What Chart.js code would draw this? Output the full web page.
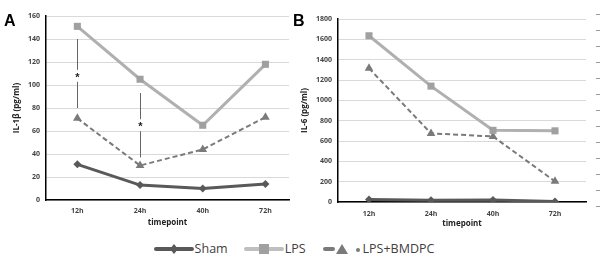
<!DOCTYPE html>
<html>
<head>
<meta charset="utf-8">
<script src="https://cdn.jsdelivr.net/npm/chart.js@4/dist/chart.umd.min.js"></script>
<style>
  body { margin: 0; background: #fff; }
  #wrap { position: relative; width: 600px; height: 267px; overflow: hidden; font-family: "Open Sans", sans-serif; }
  .panel { position: absolute; top: 0; width: 300px; height: 232px; }
  .tag { position: absolute; font: bold 16px "Liberation Sans", Arial, sans-serif; color: #000; }
  #legend { position: absolute; left: -6px; top: 240px; width: 600px; display: flex; justify-content: center; align-items: center; font-size: 12.5px; color: #404040; }
  #legend .item { display: flex; align-items: center; margin: 0 8px; }
  #legend canvas { margin-right: 1px; }
  #ruler { position: absolute; left: 596px; top: 14px; width: 4px; height: 195px;
    background: repeating-linear-gradient(to bottom, #9a9a9a 0, #9a9a9a 1px, transparent 1px, transparent 16px); }
</style>
</head>
<body>
<div id="wrap">
  <div class="panel" style="left:0"><canvas id="chartA"></canvas></div>
  <div class="panel" style="left:300px"><canvas id="chartB"></canvas></div>
  <div class="tag" style="left:4px; top:12px">A</div>
  <div class="tag" style="left:293px; top:12px">B</div>
  <div id="ruler"></div>
  <div id="legend"></div>
</div>
<script>
const timepoints = ["12h", "24h", "40h", "72h"];

const il1bSham = [31, 13, 10, 14];
const il1bLps = [151, 105, 65, 118];
const il1bBmdpc = [71, 30, 44, 72];

const il6Sham = [25, 18, 20, 5];
const il6Lps = [1635, 1140, 705, 700];
const il6Bmdpc = [1315, 675, 645, 203];

// significance brackets in panel A: category index, top, bottom, star level
const sigIndex = [0, 1];
const sigTop = [140, 93];
const sigBottom = [80, 37];
const sigStar = [108, 65];

const seriesNames = ["Sham", "LPS", "LPS+BMDPC"];

const shamColor = "#595959";
const lpsColor = "#b0b0b0";
const lpsPoint = "#a0a0a0";
const bmdpcColor = "#7a7a7a";

const toPoints = arr => arr.map((v, i) => ({ x: i, y: v }));

function datasets(sham, lps, bmdpc) {
  return [
    {
      label: seriesNames[0], data: toPoints(sham),
      borderColor: shamColor, backgroundColor: shamColor, borderWidth: 3,
      pointStyle: "rectRot", pointRadius: 4, pointBorderWidth: 0
    },
    {
      label: seriesNames[1], data: toPoints(lps),
      borderColor: lpsColor, backgroundColor: lpsPoint, borderWidth: 3,
      pointStyle: "rect", pointRadius: 5, pointBorderWidth: 0
    },
    {
      label: seriesNames[2], data: toPoints(bmdpc),
      borderColor: bmdpcColor, backgroundColor: bmdpcColor, borderWidth: 2, borderDash: [5, 3],
      pointStyle: "triangle", pointRadius: 5, pointBorderWidth: 0
    }
  ];
}

const tickFont = { family: "Open Sans", size: 7, weight: "bold" };
const titleFont = { family: "Open Sans", size: 8, weight: "bold" };

function makeChart(id, data, o) {
  return new Chart(document.getElementById(id), {
    type: "line",
    data: { datasets: data },
    options: {
      responsive: true,
      maintainAspectRatio: false,
      animation: false,
      events: [],
      layout: { padding: o.padding },
      plugins: { legend: { display: false }, tooltip: { enabled: false } },
      scales: {
        x: {
          type: "linear", min: -0.5, max: o.xMax,
          afterBuildTicks: s => { s.ticks = timepoints.map((_, i) => ({ value: i })); },
          afterFit: s => { s.height = o.xHeight; },
          grid: { display: false, drawTicks: false },
          border: { color: "#000", width: 1.5 },
          ticks: { font: tickFont, color: "#444", padding: o.xTickPad, maxRotation: 0, callback: v => timepoints[v] },
          title: { display: true, text: "timepoint", font: titleFont, color: "#222", padding: { top: 0, bottom: o.titlePad } }
        },
        y: {
          min: 0, max: o.yMax,
          afterFit: s => { s.width = o.yWidth; },
          grid: { color: "#d9d9d9", drawTicks: false },
          border: { color: "#000", width: 1.5 },
          ticks: { stepSize: o.yStep, font: tickFont, color: "#444", padding: 6, callback: v => String(v) },
          title: { display: true, text: o.yTitle, font: titleFont, color: "#222", padding: { top: o.yTitlePad, bottom: 0 } }
        }
      }
    },
    plugins: o.plugins || []
  });
}

const sigPlugin = {
  id: "sig",
  afterDatasetsDraw(chart) {
    const { ctx, scales: { x, y } } = chart;
    ctx.save();
    ctx.strokeStyle = "#666";
    ctx.lineWidth = 1;
    ctx.fillStyle = "#222";
    ctx.font = "bold 11px 'Liberation Sans'";
    ctx.textAlign = "center";
    ctx.textBaseline = "middle";
    sigIndex.forEach((c, i) => {
      const px = Math.round(x.getPixelForValue(c)) + 0.5;
      const top = y.getPixelForValue(sigTop[i]);
      const bot = y.getPixelForValue(sigBottom[i]);
      const star = y.getPixelForValue(sigStar[i]);
      ctx.beginPath();
      ctx.moveTo(px, top); ctx.lineTo(px, star - 6);
      ctx.moveTo(px, star + 6); ctx.lineTo(px, bot);
      ctx.stroke();
      ctx.fillText("*", px, star + 2);
    });
    ctx.restore();
  }
};

makeChart("chartA", datasets(il1bSham, il1bLps, il1bBmdpc), {
  padding: { top: 16, right: 11, left: 0, bottom: 0 },
  xMax: 3.376, xHeight: 32, titlePad: 4, xTickPad: 7,
  yMax: 160, yStep: 20, yWidth: 46, yTitle: "IL-1β (pg/ml)", yTitlePad: 12,
  plugins: [sigPlugin]
});

makeChart("chartB", datasets(il6Sham, il6Lps, il6Bmdpc), {
  padding: { top: 19, right: 14, left: 0, bottom: 0 },
  xMax: 3.5, xHeight: 30, titlePad: 3, xTickPad: 8,
  yMax: 1800, yStep: 200, yWidth: 38, yTitle: "IL-6 (pg/ml)", yTitlePad: 0
});

// legend with line-style swatches
const legend = document.getElementById("legend");
seriesNames.forEach((name, i) => {
  const item = document.createElement("div");
  item.className = "item";
  const c = document.createElement("canvas");
  c.width = 40; c.height = 12;
  const g = c.getContext("2d");
  g.lineWidth = 4;
  g.lineCap = "round";
  if (i === 0) {
    g.strokeStyle = shamColor;
    g.beginPath(); g.moveTo(2, 6); g.lineTo(38, 6); g.stroke();
    g.fillStyle = shamColor;
    g.beginPath(); g.moveTo(20, 1); g.lineTo(24, 6); g.lineTo(20, 11); g.lineTo(16, 6); g.fill();
  } else if (i === 1) {
    g.strokeStyle = "#bfbfbf";
    g.beginPath(); g.moveTo(2, 6); g.lineTo(38, 6); g.stroke();
    g.fillStyle = lpsPoint;
    g.fillRect(15, 1, 10, 10);
  } else {
    g.strokeStyle = bmdpcColor;
    g.beginPath(); g.moveTo(3, 6); g.lineTo(11, 6); g.stroke();
    g.fillStyle = bmdpcColor;
    g.beginPath(); g.moveTo(20, 1); g.lineTo(26, 11); g.lineTo(14, 11); g.fill();
    g.beginPath(); g.arc(36, 7, 2, 0, Math.PI * 2); g.fill();
  }
  item.appendChild(c);
  const t = document.createElement("span");
  t.textContent = name;
  item.appendChild(t);
  legend.appendChild(item);
});
</script>
</body>
</html>
